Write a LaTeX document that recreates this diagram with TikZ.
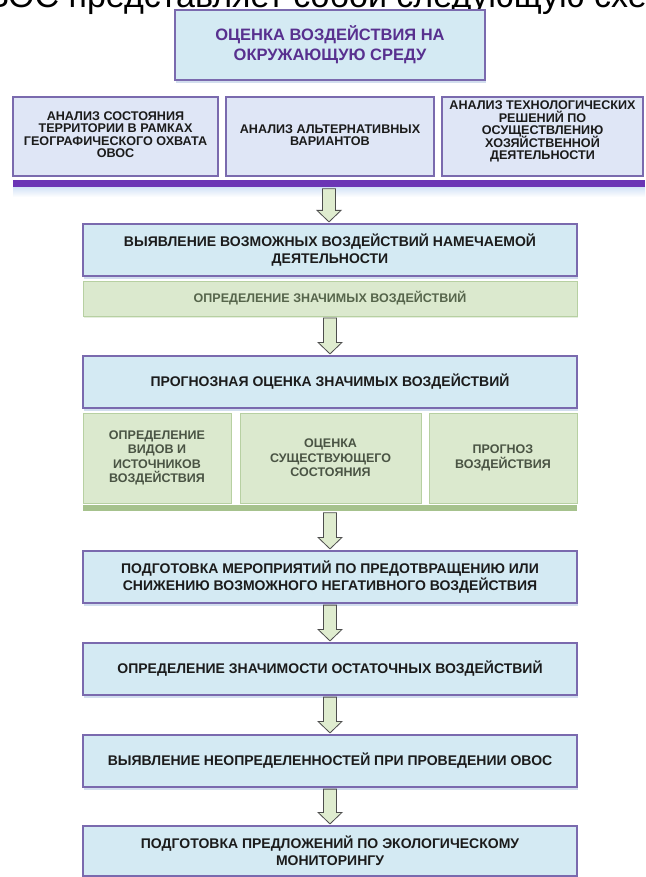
\documentclass[tikz,border=0pt]{standalone}
\usepackage{fontspec}
\setmainfont{Liberation Sans}
\usetikzlibrary{shadows,calc}
\setlength{\lineskiplimit}{-30pt}
\definecolor{boxblue}{HTML}{D4EAF3}
\definecolor{boxline}{HTML}{7A6AAE}
\definecolor{rowfill}{HTML}{DFE6F6}
\definecolor{titletext}{HTML}{58308F}
\definecolor{bodytext}{HTML}{1B1B1B}
\definecolor{shadowblue}{HTML}{9DB6DA}
\definecolor{barpurple}{HTML}{6B35B5}
\definecolor{glow}{HTML}{D2E2F6}
\definecolor{greenfill}{HTML}{DBE9CE}
\definecolor{greenline}{HTML}{B7D0A2}
\definecolor{greentext}{HTML}{56654B}
\definecolor{greendark}{HTML}{4A5444}
\definecolor{greenbar}{HTML}{A6C28D}
\definecolor{arrowfill}{HTML}{DFECCF}
\definecolor{arrowline}{HTML}{4D4D4D}
\newcommand{\bodyfont}{\fontsize{14}{17}\selectfont\bfseries\lineskiplimit=-30pt}
\newcommand{\rowfont}{\fontsize{12.6}{12.4}\selectfont\bfseries\lineskiplimit=-30pt}
\newcommand{\greenfont}{\fontsize{12.5}{14.5}\selectfont\bfseries\lineskiplimit=-30pt}
\newcommand{\titlefnt}{\fontsize{16.5}{20}\selectfont\bfseries\lineskiplimit=-30pt}
\newcommand{\flowarrow}[2]{%
  \path let \p1=(#1.south), \p2=(#2.north) in
    [draw=arrowline, fill=arrowfill, line width=0.8pt, line join=miter]
    (\x1-6.5pt,\y1-1.5pt) -- (\x1+6.5pt,\y1-1.5pt) -- (\x1+6.5pt,\y2+13pt)
    -- (\x1+12pt,\y2+13pt) -- (\x1,\y2+1.5pt) -- (\x1-12pt,\y2+13pt)
    -- (\x1-6.5pt,\y2+13pt) -- cycle;}
\tikzset{
  shade/.style={drop shadow={shadow xshift=1pt, shadow yshift=-3pt, opacity=0.45, fill=shadowblue}},
  bluebox/.style={draw=boxline, line width=1.2pt, fill=boxblue, minimum width=494pt,
    minimum height=52pt, inner sep=0pt, align=center, font=\bodyfont, text=bodytext, shade},
  titlebox/.style={draw=boxline, line width=1.2pt, fill=boxblue, minimum width=310pt,
    minimum height=70pt, inner sep=0pt, align=center, font=\titlefnt, text=titletext, shade},
  rowbox/.style={draw=boxline, line width=1.1pt, fill=rowfill, minimum height=79pt,
    inner sep=0pt, align=center, font=\rowfont, text=bodytext},
  greenwide/.style={draw=greenline, line width=1pt, fill=greenfill, minimum width=494pt,
    minimum height=35pt, inner sep=0pt, align=center, font=\greenfont, text=greentext,
    drop shadow={shadow xshift=0.5pt, shadow yshift=-2pt, opacity=0.35, fill=greenline}},
  greenbox/.style={draw=greenline, line width=1pt, fill=greenfill, minimum height=90pt,
    inner sep=0pt, align=center, font=\greenfont, text=greendark},
  barnode/.style={fill=barpurple, draw=none, inner sep=0pt, minimum height=7pt},
  gbarnode/.style={fill=greenbar, draw=none, inner sep=0pt, minimum height=6pt}
}
\begin{document}
\begin{tikzpicture}[x=1pt,y=-1pt]
\useasboundingbox (0,0) rectangle (645,877);
\fill[white] (0,0) rectangle (645,877);
% cropped heading line at the very top
\begin{scope}
\clip (0,0) rectangle (645,877);
\node[anchor=base west, inner sep=0pt, font=\fontsize{34}{40}\selectfont, text=black] (head) at (-40,7.5) {ОВОС представляет собой следующую схему:};
\end{scope}
% title
\node[titlebox] (title) at (330,45) {ОЦЕНКА ВОЗДЕЙСТВИЯ НА\\ОКРУЖАЮЩУЮ СРЕДУ};
% row of three analyses
\node[rowbox, minimum width=205pt] (r1) at (115.5,136.5) {АНАЛИЗ СОСТОЯНИЯ\\ТЕРРИТОРИИ В РАМКАХ\\ГЕОГРАФИЧЕСКОГО ОХВАТА\\ОВОС\\[-8.3pt]\mbox{}};
\node[rowbox, minimum width=208pt] (r2) at (330,136.5) {АНАЛИЗ АЛЬТЕРНАТИВНЫХ\\ВАРИАНТОВ\\[-9.3pt]\mbox{}};
\node[rowbox, minimum width=201pt] (r3) at (542.5,136.5) {АНАЛИЗ ТЕХНОЛОГИЧЕСКИХ\\РЕШЕНИЙ ПО\\ОСУЩЕСТВЛЕНИЮ\\ХОЗЯЙСТВЕННОЙ\\ДЕЯТЕЛЬНОСТИ\\[0pt]\mbox{}};
% purple bar with glow
\fill[top color=glow, bottom color=white] (13,187) rectangle (645,197);
\node[barnode, minimum width=632pt] (bar) at (329,183.5) {};
% main chain
\node[bluebox] (a) at (330,250) {ВЫЯВЛЕНИЕ ВОЗМОЖНЫХ ВОЗДЕЙСТВИЙ НАМЕЧАЕМОЙ\\ДЕЯТЕЛЬНОСТИ};
\node[greenwide] (g) at (330,298.5) {ОПРЕДЕЛЕНИЕ ЗНАЧИМЫХ ВОЗДЕЙСТВИЙ};
\node[bluebox] (b) at (330,382) {ПРОГНОЗНАЯ ОЦЕНКА ЗНАЧИМЫХ ВОЗДЕЙСТВИЙ};
\node[greenbox, minimum width=148pt] (g1) at (157,458) {ОПРЕДЕЛЕНИЕ\\ВИДОВ И\\ИСТОЧНИКОВ\\ВОЗДЕЙСТВИЯ};
\node[greenbox, minimum width=181pt] (g2) at (330.5,458) {ОЦЕНКА\\СУЩЕСТВУЮЩЕГО\\СОСТОЯНИЯ};
\node[greenbox, minimum width=148pt] (g3) at (503,458) {ПРОГНОЗ\\ВОЗДЕЙСТВИЯ};
\node[gbarnode, minimum width=494pt] (gbar) at (330,508) {};
\node[bluebox] (c) at (330,577) {ПОДГОТОВКА МЕРОПРИЯТИЙ ПО ПРЕДОТВРАЩЕНИЮ ИЛИ\\СНИЖЕНИЮ ВОЗМОЖНОГО НЕГАТИВНОГО ВОЗДЕЙСТВИЯ};
\node[bluebox] (d) at (330,669) {ОПРЕДЕЛЕНИЕ ЗНАЧИМОСТИ ОСТАТОЧНЫХ ВОЗДЕЙСТВИЙ};
\node[bluebox] (e) at (330,761) {ВЫЯВЛЕНИЕ НЕОПРЕДЕЛЕННОСТЕЙ ПРИ ПРОВЕДЕНИИ ОВОС};
\node[bluebox, minimum height=50pt] (f) at (330,851) {ПОДГОТОВКА ПРЕДЛОЖЕНИЙ ПО ЭКОЛОГИЧЕСКОМУ\\МОНИТОРИНГУ};
% block arrows
\flowarrow{bar}{a}
\flowarrow{g}{b}
\flowarrow{gbar}{c}
\flowarrow{c}{d}
\flowarrow{d}{e}
\flowarrow{e}{f}
\end{tikzpicture}
\end{document}
